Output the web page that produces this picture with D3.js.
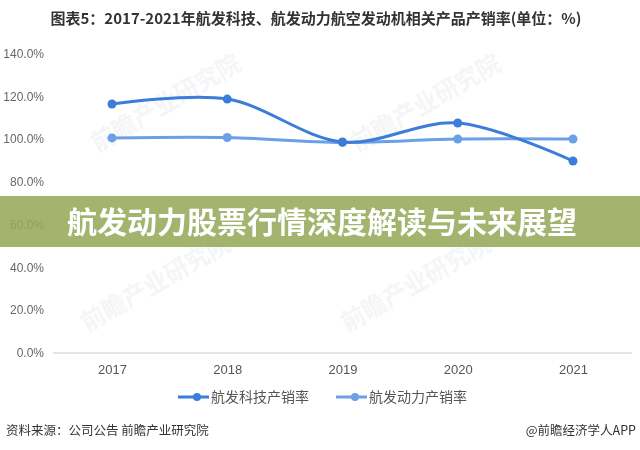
<!DOCTYPE html>
<html><head><meta charset="utf-8">
<script src="https://cdn.jsdelivr.net/npm/d3@7"></script>
<style>body{margin:0;background:#fff;}svg{display:block;font-family:"Noto Sans CJK SC","Noto Sans",sans-serif;}</style>
</head><body><svg id="c" width="640" height="450"></svg>
<script>
const years = ["2017","2018","2019","2020","2021"];
const hfkj = [116.6, 118.9, 98.8, 107.7, 89.9];
const hfdl = [100.7, 100.9, 98.6, 100.2, 100.2];
const seriesNames = ["航发科技产销率","航发动力产销率"];
const yTicks = [0,20,40,60,80,100,120,140];
const titleText = "图表5：2017-2021年航发科技、航发动力航空发动机相关产品产销率(单位：%)";
const bannerText = "航发动力股票行情深度解读与未来展望";
const sourceText = "资料来源：公司公告 前瞻产业研究院";
const brandText = "@前瞻经济学人APP";

const svg = d3.select("#c");
const colors = ["#3b7dd8","#6b9fe6"];
const x = d3.scalePoint().domain(years).range([112,573]);
const y = d3.scaleLinear().domain([0,140]).range([353,54]);

// watermarks
const wm = svg.append("g").attr("fill","#eceef1").attr("opacity",0.6).attr("font-size",24).attr("font-weight","bold");
[[170,110],[430,110],[160,290],[420,290]].forEach(p=>{
  wm.append("text").attr("transform",`translate(${p[0]},${p[1]}) rotate(-30)`).attr("text-anchor","middle").text("前瞻产业研究院");
});

svg.append("text").attr("x",316).attr("y",24).attr("text-anchor","middle")
  .attr("font-size",15).attr("font-weight","bold").attr("fill","#333").text(titleText);

// y axis labels
svg.append("g").selectAll("text").data(yTicks).join("text")
  .attr("x",44).attr("y",d=>y(d)+4).attr("text-anchor","end")
  .attr("font-size",12).attr("fill","#666").attr("font-family","Liberation Sans, Arial, sans-serif")
  .text(d=>d.toFixed(1)+"%");

// x axis
const xa = svg.append("g").attr("transform","translate(0,353)")
  .call(d3.axisBottom(x).tickSize(0).tickPadding(12));
xa.select(".domain").remove();
xa.selectAll("text").attr("font-size",13).attr("fill","#555").attr("font-family","Liberation Sans, Arial, sans-serif");
svg.append("line").attr("x1",53).attr("x2",632).attr("y1",353).attr("y2",353).attr("stroke","#ccc");

const line = d3.line().x((d,i)=>x(years[i])).y(d=>y(d)).curve(d3.curveCatmullRom.alpha(0.5));
[hfdl,hfkj].forEach((s,k)=>{
  const c = k===0?colors[1]:colors[0];
  svg.append("path").attr("d",line(s)).attr("fill","none").attr("stroke",c).attr("stroke-width",3);
  svg.append("g").selectAll("circle").data(s).join("circle")
    .attr("cx",(d,i)=>x(years[i])).attr("cy",d=>y(d)).attr("r",4.5).attr("fill",c);
});

// legend
const lg = [[178,seriesNames[0],colors[0]],[336,seriesNames[1],colors[1]]];
lg.forEach(l=>{
  svg.append("line").attr("x1",l[0]).attr("x2",l[0]+31).attr("y1",397).attr("y2",397).attr("stroke",l[2]).attr("stroke-width",3);
  svg.append("circle").attr("cx",l[0]+19).attr("cy",397).attr("r",4).attr("fill",l[2]);
  svg.append("text").attr("x",l[0]+33).attr("y",402).attr("font-size",14).attr("fill","#555").text(l[1]);
});

svg.append("text").attr("x",6).attr("y",435).attr("font-size",12.5).attr("fill","#333").text(sourceText);
svg.append("text").attr("x",636).attr("y",435).attr("text-anchor","end").attr("font-size",12.5).attr("fill","#333").text(brandText);

// banner
svg.append("rect").attr("x",0).attr("y",196).attr("width",640).attr("height",51).attr("fill","#97a85a").attr("opacity",0.88);
svg.append("text").attr("x",322).attr("y",233).attr("text-anchor","middle").attr("font-size",30).attr("font-weight","bold")
  .attr("fill","#fff").text(bannerText);
</script></body></html>
